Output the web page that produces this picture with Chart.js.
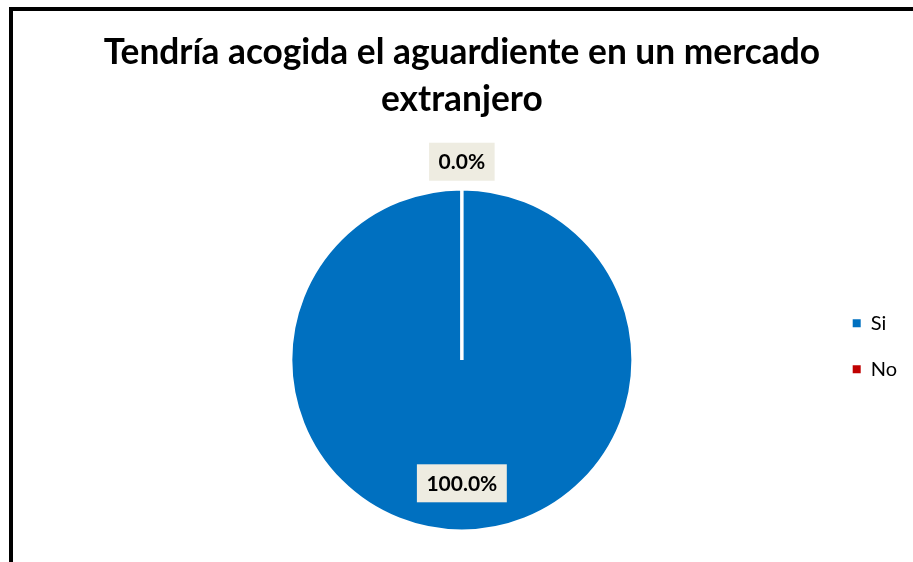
<!DOCTYPE html>
<html>
<head>
<meta charset="utf-8">
<title>Tendría acogida el aguardiente en un mercado extranjero</title>
<script src="https://cdn.jsdelivr.net/npm/chart.js@4.4.1/dist/chart.umd.min.js"></script>
<style>
  html, body { margin: 0; padding: 0; background: #fff; overflow: hidden; }
  #wrap { position: absolute; left: 0; top: 0; width: 913px; height: 562px; }
  #frame {
    position: absolute; left: 9px; top: 7px; width: 920px; height: 580px;
    border: 4px solid #000; pointer-events: none;
  }
</style>
</head>
<body>
<div id="wrap"><canvas id="myChart" width="913" height="562"></canvas></div>
<div id="frame"></div>
<script>
//////////////// DATA /////////////////////////////////
var labels = ['Si', 'No'];
var values = [100, 0];
var colors = ['#0070C0', '#C00000'];
var titleLines = ['Tendría acogida el aguardiente en un mercado', 'extranjero'];

//////////////// PERCENT LABELS /////////////////////////////////
// draws the "xx.x%" tag of every slice on a light beige box
var pctLabels = {
  id: 'pctLabels',
  afterDatasetsDraw: function(chart) {
    var ctx = chart.ctx;
    var meta = chart.getDatasetMeta(0);
    var total = values.reduce(function(a, b) { return a + b; }, 0);
    ctx.save();
    ctx.font = 'bold 21px Lato';
    ctx.textAlign = 'center';
    ctx.textBaseline = 'middle';
    meta.data.forEach(function(arc, i) {
      var pct = values[i] / total * 100;
      var txt = pct.toFixed(1) + '%';
      var p = arc.getProps(['x', 'y', 'startAngle', 'endAngle', 'outerRadius'], true);
      var mid = (p.startAngle + p.endAngle) / 2;
      // small slices get their tag outside the pie
      var r = pct < 5 ? p.outerRadius + 27 : p.outerRadius * 0.72;
      var cx = p.x + Math.cos(mid) * r;
      var cy = p.y + Math.sin(mid) * r;
      var w = ctx.measureText(txt).width + 19;
      var h = 38;
      ctx.fillStyle = '#EEECE1';
      ctx.fillRect(cx - w / 2, cy - h / 2, w, h);
      ctx.fillStyle = '#000';
      ctx.fillText(txt, cx, cy + 1);
    });
    ctx.restore();
  }
};

// legend squares without the white slice border
function legendLabels(chart) {
  var items = Chart.overrides.pie.plugins.legend.labels.generateLabels(chart);
  items.forEach(function(item) { item.lineWidth = 0; });
  return items;
}

//////////////// CHART /////////////////////////////////
var ctx = document.getElementById('myChart').getContext('2d');
var chart = new Chart(ctx, {
  type: 'pie',
  data: {
    labels: labels,
    datasets: [{
      data: values,
      backgroundColor: colors,
      borderColor: '#fff',
      borderWidth: 3.5
    }]
  },
  options: {
    responsive: false,
    animation: false,
    layout: { padding: { left: 97, right: 6, top: 0, bottom: 29 } },
    plugins: {
      title: {
        display: true,
        fullSize: false,
        text: titleLines,
        color: '#000',
        font: { family: 'Lato', size: 35.3, weight: 'bold', lineHeight: 1.331 },
        padding: { top: 29, bottom: 64 }
      },
      legend: {
        position: 'right',
        align: 'start',
        fullSize: false,
        title: { display: true, text: '', padding: { top: 86, bottom: 0 } },
        labels: {
          color: '#000',
          boxWidth: 8,
          boxHeight: 8,
          padding: 26,
          font: { family: 'Lato', size: 20 },
          generateLabels: legendLabels
        }
      },
      tooltip: { enabled: false }
    }
  },
  plugins: [pctLabels]
});
</script>
</body>
</html>
